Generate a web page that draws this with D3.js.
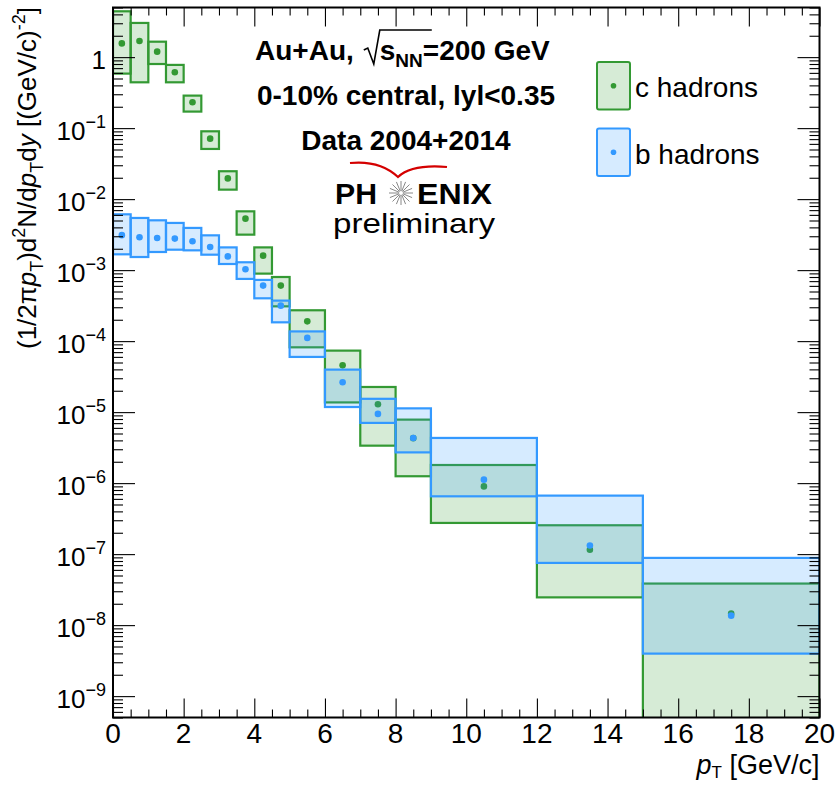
<!DOCTYPE html>
<html><head><meta charset="utf-8">
<script src="https://cdn.jsdelivr.net/npm/d3@7"></script>
<style>
body{margin:0;background:#fff}
svg{display:block}
text{font-family:"Liberation Sans",Arial,Helvetica,sans-serif;fill:#000}
</style>
</head><body>
<svg id="c" width="836" height="785"></svg>
<script>
// ---- data ----
const binLow  = [0,0.5,1,1.5,2,2.5,3,3.5,4,4.5,5,6,7,8,9,12,15];
const binHigh = [0.5,1,1.5,2,2.5,3,3.5,4,4.5,5,6,7,8,9,12,15,20];
const cValue   = [1.56,1.69,1.195,0.611,0.231,0.0711,0.0196,0.00531,0.0016,0.000605,1.90e-4,4.56e-5,1.29e-5,4.3e-6,9.0e-7,1.15e-7,1.45e-8];
const cSysHigh = [4.42,3.03,1.65,0.777,0.287,0.0902,0.0247,0.00673,0.00209,0.0008,2.72e-4,7.35e-5,2.26e-5,7.84e-6,1.80e-6,2.55e-7,3.85e-8];
const cSysLow  = [0.586,0.442,0.80,0.442,0.171,0.0509,0.0136,0.00316,0.000893,0.000309,8.18e-5,1.37e-5,3.37e-6,1.25e-6,2.75e-7,2.46e-8,1e-10];
const bValue   = [3.11e-3,2.90e-3,2.84e-3,2.78e-3,2.55e-3,2.12e-3,1.56e-3,1.03e-3,6.05e-4,3.16e-4,1.11e-4,2.63e-5,9.44e-6,4.33e-6,1.12e-6,1.32e-7,1.36e-8];
const bSysHigh = [6.11e-3,5.43e-3,5.03e-3,4.62e-3,3.93e-3,3.09e-3,2.09e-3,1.29e-3,7.28e-4,3.72e-4,1.37e-4,3.97e-5,1.54e-5,1.13e-5,4.33e-6,6.67e-7,8.85e-8];
const bSysLow  = [1.67e-3,1.53e-3,1.80e-3,1.94e-3,1.90e-3,1.65e-3,1.22e-3,7.52e-4,4.01e-4,1.84e-4,5.99e-5,1.18e-5,7.05e-6,2.71e-6,6.52e-7,7.52e-8,3.97e-9];
const xMajorTicks = [0,2,4,6,8,10,12,14,16,18,20];
const yMajorExp = [0,-1,-2,-3,-4,-5,-6,-7,-8,-9];
const seriesNames = ["c hadrons","b hadrons"];
const seriesColors = ["#339933","#3399ff"];

// ---- layout ----
const L=113, R=819.5, T=7.5, B=717.5;
const svg = d3.select("#c");
const x = d3.scaleLinear().domain([0,20]).range([L,R]);
const y = d3.scaleLog().domain([5e-10,5]).range([B,T]);

svg.append("defs").append("clipPath").attr("id","pc")
  .append("rect").attr("x",L).attr("y",T).attr("width",R-L).attr("height",B-T);

function mk(vals,lo,hi){
  return vals.map((v,i)=>({v, lo:lo[i], hi:hi[i], x0:binLow[i], x1:binHigh[i]}));
}
const cData = mk(cValue,cSysLow,cSysHigh);
const bData = mk(bValue,bSysLow,bSysHigh);

const plot = svg.append("g").attr("clip-path","url(#pc)");
function drawBoxes(data,color){
  plot.append("g").selectAll("rect").data(data).join("rect")
    .attr("x",d=>x(d.x0)).attr("width",d=>x(d.x1)-x(d.x0))
    .attr("y",d=>y(d.hi)).attr("height",d=>y(d.lo)-y(d.hi))
    .attr("fill",color).attr("fill-opacity",0.2)
    .attr("stroke",color).attr("stroke-width",2.2);
}
function drawPts(data,color){
  plot.append("g").selectAll("circle").data(data).join("circle")
    .attr("cx",d=>x((d.x0+d.x1)/2)).attr("cy",d=>y(d.v)).attr("r",3.3)
    .attr("fill",color);
}
drawBoxes(cData,seriesColors[0]);
drawPts(cData,seriesColors[0]);
drawBoxes(bData,seriesColors[1]);
drawPts(bData,seriesColors[1]);

// ---- axes (ROOT style, ticks inside, mirrored) ----
const xMinor = d3.range(0,20.001,0.5).filter(v=>v%2!==0);
const yMinor = [];
for(let e=-10;e<=0;e++) for(let m=2;m<=9;m++){const v=m*Math.pow(10,e); if(v>=5e-10&&v<=5) yMinor.push(v);}
const yMajor = yMajorExp.map(e=>Math.pow(10,e));

function axisG(gen,tx,ty){
  const g=svg.append("g").attr("transform",`translate(${tx},${ty})`).call(gen);
  g.select(".domain").remove();
  g.selectAll(".tick line").attr("stroke","#000").attr("stroke-width",1.1);
  g.selectAll(".tick text").remove();
  return g;
}
axisG(d3.axisBottom(x).tickValues(xMajorTicks).tickSize(-19),0,B);
axisG(d3.axisBottom(x).tickValues(xMinor).tickSize(-8),0,B);
axisG(d3.axisTop(x).tickValues(xMajorTicks).tickSize(-19),0,T);
axisG(d3.axisTop(x).tickValues(xMinor).tickSize(-8),0,T);
axisG(d3.axisLeft(y).tickValues(yMajor).tickSize(-22),L,0);
axisG(d3.axisLeft(y).tickValues(yMinor).tickSize(-10),L,0);
axisG(d3.axisRight(y).tickValues(yMajor).tickSize(-22),R,0);
axisG(d3.axisRight(y).tickValues(yMinor).tickSize(-10),R,0);

svg.append("rect").attr("x",L).attr("y",T).attr("width",R-L).attr("height",B-T)
  .attr("fill","none").attr("stroke","#000").attr("stroke-width",2);

// x tick labels
svg.append("g").selectAll("text").data(xMajorTicks).join("text")
  .attr("x",d=>x(d)).attr("y",B+25).attr("text-anchor","middle")
  .attr("font-size",28).text(d=>d);

// y tick labels
const yl = svg.append("g").selectAll("text").data(yMajorExp).join("text")
  .attr("x",106).attr("y",d=>y(Math.pow(10,d))+12).attr("text-anchor","end").attr("font-size",26);
yl.each(function(e){
  const t=d3.select(this);
  if(e===0){t.attr("y",y(1)+12).text("1");return;}
  t.append("tspan").text("10");
  t.append("tspan").attr("dy",-12).attr("font-size",18).text("\u2212"+(-e));
});

// axis titles
const xt = svg.append("text").attr("x",R).attr("y",774).attr("text-anchor","end").attr("font-size",27);
xt.append("tspan").attr("font-style","italic").text("p");
xt.append("tspan").attr("dy",4).attr("font-size",17).text("T");
xt.append("tspan").attr("dy",-4).text(" [GeV/c]");

const yt = svg.append("text").attr("transform","translate(36,7) rotate(-90)")
  .attr("text-anchor","end").attr("font-size",26);
function seg(txt,opt={}){ const s=yt.append("tspan").text(txt);
  if(opt.it) s.attr("font-style","italic");
  if(opt.dy) s.attr("dy",opt.dy);
  if(opt.fs) s.attr("font-size",opt.fs);
  return s;}
seg("(1/2\u03c0"); seg("p",{it:1}); seg("T",{dy:7,fs:18}); seg(")d",{dy:-7});
seg("2",{dy:-11,fs:18}); seg("N/d",{dy:11}); seg("p",{it:1}); seg("T",{dy:7,fs:18});
seg("d",{dy:-7}); seg("y",{it:1}); seg(" [(GeV/c)"); seg("-2",{dy:-11,fs:18}); seg("]",{dy:11});

// ---- header text ----
const hdr = svg.append("g");
function piece(txt,xx,yy,fs,weight){
  const t=hdr.append("text").attr("x",xx).attr("y",yy).attr("font-size",fs)
    .attr("font-weight",weight||"bold").text(txt);
  return t.node().getComputedTextLength();
}
// line 1: Au+Au, sqrt(s_NN)=200 GeV
{
  const base=60; let cx=255;
  cx+=piece("Au+Au,",cx,base,28);
  cx+=10;
  const rx=cx;
  hdr.append("path").attr("d",`M${rx},${base-10} l4,-2 l6,16 l6,-34 l52,0`)
    .attr("fill","none").attr("stroke","#000").attr("stroke-width",1.6);
  cx+=16;
  cx+=piece("s",cx,base,28);
  cx+=piece("NN",cx,base+7,19);
  piece("=200 GeV",cx,base,28);
}
hdr.append("text").attr("x",406).attr("y",105).attr("text-anchor","middle")
  .attr("font-size",28).attr("font-weight","bold").text("0-10% central, lyl<0.35");
hdr.append("text").attr("x",406).attr("y",150).attr("text-anchor","middle")
  .attr("font-size",28).attr("font-weight","bold").text("Data 2004+2014");

// PHENIX logo
hdr.append("path").attr("d","M350,163 Q380,160 398,177 Q412,164 447,167")
  .attr("fill","none").attr("stroke","#d40000").attr("stroke-width",2.2);
hdr.append("text").attr("x",377).attr("y",204).attr("text-anchor","end")
  .attr("font-size",29).attr("font-weight","bold").attr("textLength",42)
  .attr("lengthAdjust","spacingAndGlyphs").text("PH");
hdr.append("text").attr("x",417).attr("y",204)
  .attr("font-size",29).attr("font-weight","bold").attr("textLength",75)
  .attr("lengthAdjust","spacingAndGlyphs").text("ENIX");
const star=hdr.append("g").attr("stroke","#888").attr("stroke-width",1);
d3.range(16).forEach(i=>{
  const a=i*Math.PI/8;
  star.append("line").attr("x1",401+2*Math.cos(a)).attr("y1",193+2*Math.sin(a))
    .attr("x2",401+12*Math.cos(a)).attr("y2",193+12*Math.sin(a));
});
hdr.append("text").attr("x",414).attr("y",233).attr("text-anchor","middle")
  .attr("font-size",28).attr("textLength",162).attr("lengthAdjust","spacingAndGlyphs")
  .attr("font-family","DejaVu Sans").text("preliminary");

// ---- legend ----
const leg = svg.append("g").selectAll("g").data(seriesNames).join("g")
  .attr("transform",(d,i)=>`translate(597,${62+i*66.5})`);
leg.append("rect").attr("width",33).attr("height",47.5).attr("rx",2)
  .attr("fill",(d,i)=>seriesColors[i]).attr("fill-opacity",0.2)
  .attr("stroke",(d,i)=>seriesColors[i]).attr("stroke-width",2);
leg.append("circle").attr("cx",16.5).attr("cy",23.7).attr("r",2.8).attr("fill",(d,i)=>seriesColors[i]);
leg.append("text").attr("x",38).attr("y",35).attr("font-size",28).text(d=>d);
</script>
</body></html>
